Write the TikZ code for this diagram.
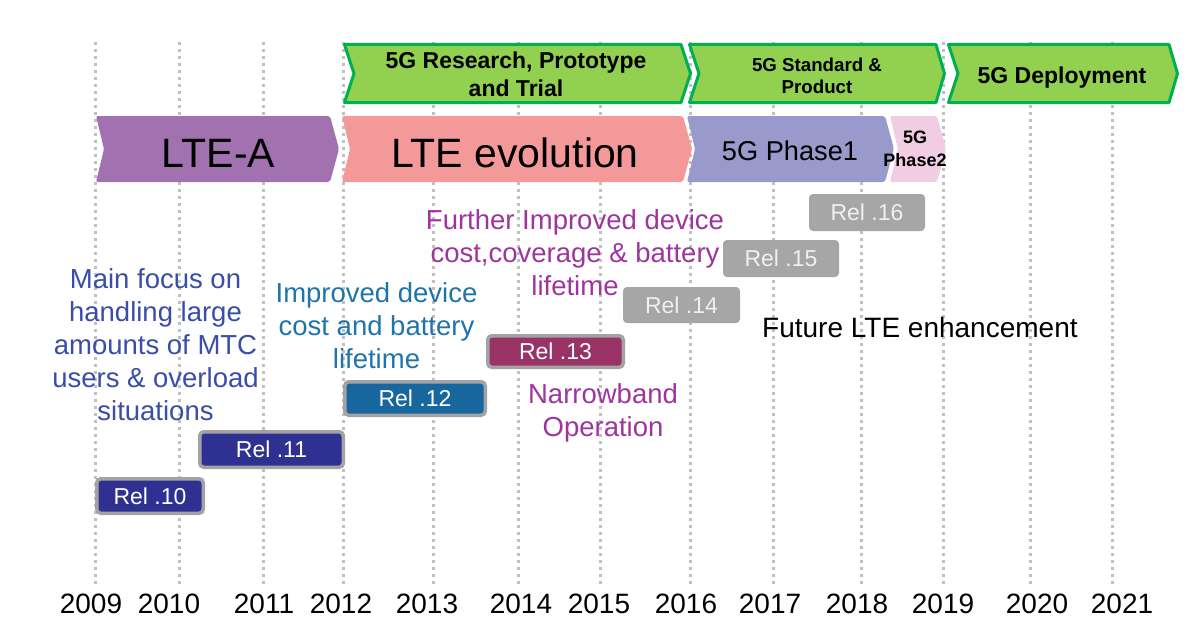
\documentclass[tikz,border=0pt]{standalone}
\usepackage{fontspec}
\setmainfont{Liberation Sans}
\definecolor{grnfill}{HTML}{92D050}
\definecolor{grnline}{HTML}{00B050}
\definecolor{lteA}{HTML}{A271AF}
\definecolor{lteEvo}{HTML}{F4999A}
\definecolor{phOne}{HTML}{9999CC}
\definecolor{phTwo}{HTML}{F0CDE2}
\definecolor{relBlue}{HTML}{2E3192}
\definecolor{relTeal}{HTML}{17679E}
\definecolor{relPlum}{HTML}{993366}
\definecolor{relGray}{HTML}{A6A6A6}
\definecolor{relEdge}{HTML}{A3A3A3}
\definecolor{txtBlue}{HTML}{3A4DA8}
\definecolor{txtTeal}{HTML}{1F74AA}
\definecolor{txtPurple}{HTML}{9E349E}
\definecolor{gridGray}{HTML}{C0C0C0}
\begin{document}
\begin{tikzpicture}[x=1pt,y=-1pt,
  gridline/.style={draw=gridGray,line width=3pt,dash pattern=on 3pt off 4pt},
  phasearrow/.style={draw=grnline,fill=grnfill,line width=3pt,line join=round},
  eraarrow/.style={rounded corners=2pt},
  relbox/.style={rounded corners=4pt,inner sep=0pt,text=white,font=\fontsize{23pt}{27pt}\selectfont},
  relframed/.style={relbox,draw=relEdge,line width=3.5pt},
  phasetext/.style={inner sep=0pt,align=center,font=\bfseries\fontsize{23pt}{28pt}\selectfont},
  eratext/.style={inner sep=0pt,anchor=base,font=\fontsize{41pt}{48pt}\selectfont},
  note/.style={inner sep=0pt,anchor=north,align=center,font=\fontsize{27.5pt}{33pt}\selectfont},
  yearlabel/.style={inner sep=0pt,anchor=base,font=\fontsize{28pt}{32pt}\selectfont}]
\useasboundingbox (0,0) rectangle (1191,634);
\fill[white] (0,0) rectangle (1191,634);
% grid lines
\foreach \x in {95,179,263,343,433,518,600,690,773,861,943,1030,1112}
  \draw[gridline] (\x,42) -- (\x,585);
% phase chevrons (top row)
\path[phasearrow] (344.5,44.5) -- (681,44.5) -- (690.5,73.5) -- (681,102.5) -- (344.5,102.5) -- (354,73.5) -- cycle;
\path[phasearrow] (689.5,44.5) -- (936,44.5) -- (944.5,73.5) -- (936,102.5) -- (689.5,102.5) -- (699,73.5) -- cycle;
\path[phasearrow] (948.5,44.5) -- (1169,44.5) -- (1177.5,73.5) -- (1169,102.5) -- (948.5,102.5) -- (958,73.5) -- cycle;
\node[phasetext,anchor=north] (research) at (516,52) {5G Research, Prototype\\and Trial};
\node[phasetext,anchor=north,font=\bfseries\fontsize{18.7pt}{22pt}\selectfont] (standard) at (817,57.5) {5G Standard \&\\Product};
\node[phasetext,anchor=base] (deploy) at (1062,83) {5G Deployment};
% era chevrons (second row)
\fill[eraarrow,lteA] (96,116) -- (330,116) -- (339,149) -- (330,182) -- (96,182) -- (104,149) -- cycle;
\fill[eraarrow,lteEvo] (342,116) -- (683,116) -- (692,149) -- (683,182) -- (342,182) -- (350,149) -- cycle;
\fill[eraarrow,phOne] (687,116) -- (885,116) -- (894,149) -- (885,182) -- (687,182) -- (695,149) -- cycle;
\fill[eraarrow,phTwo] (890,116) -- (937,116) -- (946,149) -- (937,182) -- (890,182) -- (898,149) -- cycle;
\node[eratext] (ltea) at (218.5,167) {LTE-A};
\node[eratext] (lteevo) at (515,167) {LTE evolution};
\node[eratext,font=\fontsize{27.2pt}{32pt}\selectfont] (phase1) at (790,160) {5G Phase1};
\node[inner sep=0pt,anchor=north,align=center,font=\bfseries\fontsize{18pt}{23pt}\selectfont] (phase2) at (915,131) {5G\\Phase2};
% release boxes
\node[relframed,fill=relBlue,minimum width=106.5pt,minimum height=34.5pt] (rel10) at (150,496) {Rel .10};
\node[relframed,fill=relBlue,minimum width=143.5pt,minimum height=35.5pt] (rel11) at (271.5,449.5) {Rel .11};
\node[relframed,fill=relTeal,minimum width=140.5pt,minimum height=33.5pt] (rel12) at (415,398.5) {Rel .12};
\node[relframed,fill=relPlum,minimum width=135.5pt,minimum height=31.5pt] (rel13) at (555.5,351.5) {Rel .13};
\node[relbox,fill=relGray,minimum width=117pt,minimum height=36pt,text=white!94!black] (rel14) at (681.5,305) {Rel .14};
\node[relbox,fill=relGray,minimum width=116pt,minimum height=37pt,text=white!94!black] (rel15) at (781,258.5) {Rel .15};
\node[relbox,fill=relGray,minimum width=116pt,minimum height=37pt,text=white!94!black] (rel16) at (867,212.5) {Rel .16};
% annotations
\node[note,text=txtBlue] (mtc) at (155.5,268) {Main focus on\\handling large\\amounts of MTC\\users \& overload\\situations};
\node[note,text=txtTeal] (improved) at (376.5,282) {Improved device\\cost and battery\\lifetime};
\node[note,text=txtPurple] (further) at (575,209) {Further Improved device\\cost,coverage \& battery\\lifetime};
\node[note,text=txtPurple,font=\fontsize{27.5pt}{33pt}\selectfont] (nb) at (603,383) {Narrowband\\Operation};
\node[inner sep=0pt,anchor=base west,font=\fontsize{28pt}{32pt}\selectfont] (future) at (762,337) {Future LTE enhancement};
% years
\node[yearlabel] (y2009) at (91,613) {2009};
\node[yearlabel] (y2010) at (169,613) {2010};
\node[yearlabel] (y2011) at (264,613) {2011};
\node[yearlabel] (y2012) at (341,613) {2012};
\node[yearlabel] (y2013) at (427,613) {2013};
\node[yearlabel] (y2014) at (521,613) {2014};
\node[yearlabel] (y2015) at (599,613) {2015};
\node[yearlabel] (y2016) at (686,613) {2016};
\node[yearlabel] (y2017) at (770,613) {2017};
\node[yearlabel] (y2018) at (857,613) {2018};
\node[yearlabel] (y2019) at (943,613) {2019};
\node[yearlabel] (y2020) at (1037,613) {2020};
\node[yearlabel] (y2021) at (1122,613) {2021};
\end{tikzpicture}
\end{document}
